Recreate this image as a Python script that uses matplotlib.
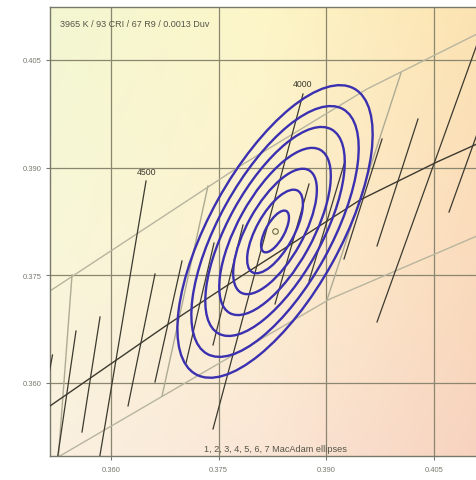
import numpy as np
import matplotlib
matplotlib.use("Agg")
import matplotlib.pyplot as plt
from matplotlib.patches import Ellipse

# ---------------- data (chromaticity x, y) ----------------
planck_x = [0.35011, 0.35150, 0.36056, 0.36780, 0.37797, 0.39469, 0.40542, 0.41099, 0.41280]
planck_y = [0.35582, 0.35680, 0.36307, 0.36808, 0.37477, 0.38550, 0.39079, 0.39330, 0.39399]

upper_x = [0.35011, 0.35150, 0.37797, 0.39567, 0.41099, 0.41280]
upper_y = [0.37190, 0.37282, 0.39023, 0.40096, 0.40862, 0.40946]

lower_x = [0.35080, 0.36961, 0.39051, 0.41099, 0.41280]
lower_y = [0.34862, 0.35958, 0.37170, 0.38048, 0.38118]

# grey quadrangle boundaries (top x, top y, bottom x, bottom y)
grey_iso = [
    (0.35457, 0.37505, 0.35262, 0.34913),
    (0.37351, 0.38745, 0.36711, 0.35819),
    (0.40040, 0.40319, 0.39009, 0.37156),
]

# isotherms: CCT -> (top x, top y, bottom x, bottom y)
iso_cct = [4800, 4700, 4600, 4500, 4400, 4300, 4200, 4100, 4000, 3900, 3800, 3700, 3600, 3500, 3400]
iso_top_x = [0.35185, 0.35512, 0.35847, 0.36488, 0.36613, 0.36989, 0.37435, 0.37839, 0.38675, 0.38759, 0.39260, 0.39776, 0.40277, 0.41211, 0.41350]
iso_top_y = [0.36390, 0.36724, 0.36920, 0.38814, 0.37519, 0.37700, 0.37950, 0.38201, 0.40026, 0.38772, 0.39093, 0.39399, 0.39678, 0.41029, 0.40166]
iso_bot_x = [0.34885, 0.35248, 0.35596, 0.35826, 0.36237, 0.36613, 0.37045, 0.37421, 0.37421, 0.38285, 0.38759, 0.39246, 0.39706, 0.39706, 0.40709]
iso_bot_y = [0.34802, 0.34913, 0.35317, 0.34872, 0.35680, 0.36014, 0.36279, 0.36529, 0.35359, 0.37101, 0.37421, 0.37728, 0.37909, 0.36850, 0.38382]
iso_labels = {4500: (0.36502, 0.38940), 4000: (0.38675, 0.40166)}

# MacAdam ellipses
ell_center = (0.38285, 0.38111)
ell_steps = [1, 2, 3, 4, 5, 6, 7]
ell_a = 0.00325   # one-step semi-major axis
ell_b = 0.00130   # one-step semi-minor axis
ell_theta = 61.0  # degrees

title_text = "3965 K / 93 CRI / 67 R9 / 0.0013 Duv"
bottom_text = "1, 2, 3, 4, 5, 6, 7 MacAdam ellipses"
xticks = [0.360, 0.375, 0.390, 0.405]
yticks = [0.360, 0.375, 0.390, 0.405]
xlim = (0.35150, 0.41099)
ylim = (0.34983, 0.41238)

# ---------------- figure ----------------
plt.rcParams['font.family'] = ['Liberation Sans', 'DejaVu Sans']
fig = plt.figure(figsize=(4.77, 4.81), dpi=100)
fig.patch.set_facecolor('white')
ax = fig.add_axes([50/477, 24/481, 427/477, 449/481])
ax.set_xlim(*xlim)
ax.set_ylim(*ylim)

# background gradient
grid_cols = np.array([
    [[0xF3, 0xF7, 0xD2], [0xFD, 0xF6, 0xC8], [0xFC, 0xE3, 0xB2]],
    [[0xF8, 0xF7, 0xD8], [0xFD, 0xF1, 0xD0], [0xFB, 0xDC, 0xBC]],
    [[0xFA, 0xF0, 0xE0], [0xFB, 0xE6, 0xD6], [0xF7, 0xD3, 0xBF]],
], dtype=float) / 255.0
n = 200
u = np.linspace(0, 2, n)
i0 = np.clip(np.floor(u).astype(int), 0, 1)
f = u - i0
R0 = i0[:, None]; FR = f[:, None, None]
C0 = i0[None, :]; FC = f[None, :, None]
c00 = grid_cols[R0, C0]
c01 = grid_cols[R0, C0 + 1]
c10 = grid_cols[R0 + 1, C0]
c11 = grid_cols[R0 + 1, C0 + 1]
img = (c00 * (1 - FR) * (1 - FC) + c01 * (1 - FR) * FC + c10 * FR * (1 - FC) + c11 * FR * FC)
ax.imshow(img, extent=[xlim[0], xlim[1], ylim[0], ylim[1]], origin='upper',
          aspect='auto', zorder=0, interpolation='bilinear')

# grid
for t in xticks:
    ax.axvline(t, color='#8a8670', lw=0.9, zorder=1)
for t in yticks:
    ax.axhline(t, color='#8a8670', lw=0.9, zorder=1)

# grey bound lines
ax.plot(upper_x, upper_y, color='#b8b59f', lw=1.0, zorder=2)
ax.plot(lower_x, lower_y, color='#b8b59f', lw=1.0, zorder=2)
for tx, ty, bx, by in grey_iso:
    ax.plot([tx, bx], [ty, by], color='#aeab94', lw=1.0, zorder=2)

# isotherms
for cct, tx, ty, bx, by in zip(iso_cct, iso_top_x, iso_top_y, iso_bot_x, iso_bot_y):
    ax.plot([tx, bx], [ty, by], color='#3c3a30', lw=0.9, zorder=3)
    if cct in iso_labels:
        lx, ly = iso_labels[cct]
        ax.text(lx, ly, str(cct), fontsize=6.3, color='#3a3a30', ha='center', va='center', zorder=6)

# Planckian locus
ax.plot(planck_x, planck_y, color='#3c3a30', lw=1.0, zorder=3)

# MacAdam ellipses
for s in ell_steps:
    e = Ellipse(ell_center, 2 * ell_a * s, 2 * ell_b * s, angle=ell_theta,
                fill=False, edgecolor='#3a30b0', lw=1.7, zorder=4)
    ax.add_patch(e)
ax.plot([ell_center[0]], [ell_center[1]], marker='o', ms=4, mfc='none', mec='#6a6a40', mew=0.8, zorder=5)

# texts
ax.text(0.0234, 0.964, title_text, transform=ax.transAxes, fontsize=6.5, color='#555548', ha='left', va='center', zorder=6)
ax.text(0.527, 0.0156, bottom_text, transform=ax.transAxes, fontsize=6.6, color='#555548', ha='center', va='center', zorder=6)

# axes styling
ax.set_xticks(xticks)
ax.set_yticks(yticks)
ax.set_xticklabels([f"{t:.3f}" for t in xticks])
ax.set_yticklabels([f"{t:.3f}" for t in yticks])
ax.tick_params(axis='both', labelsize=5.5, colors='#7a7a70', length=3, width=0.8)
ax.tick_params(axis='x', pad=4.5)
ax.tick_params(axis='y', pad=3)
for side in ['left', 'bottom', 'top']:
    ax.spines[side].set_color('#7a786a')
    ax.spines[side].set_linewidth(1.0)
ax.spines['right'].set_visible(False)

fig.savefig('out.png', dpi=100, facecolor='white')
